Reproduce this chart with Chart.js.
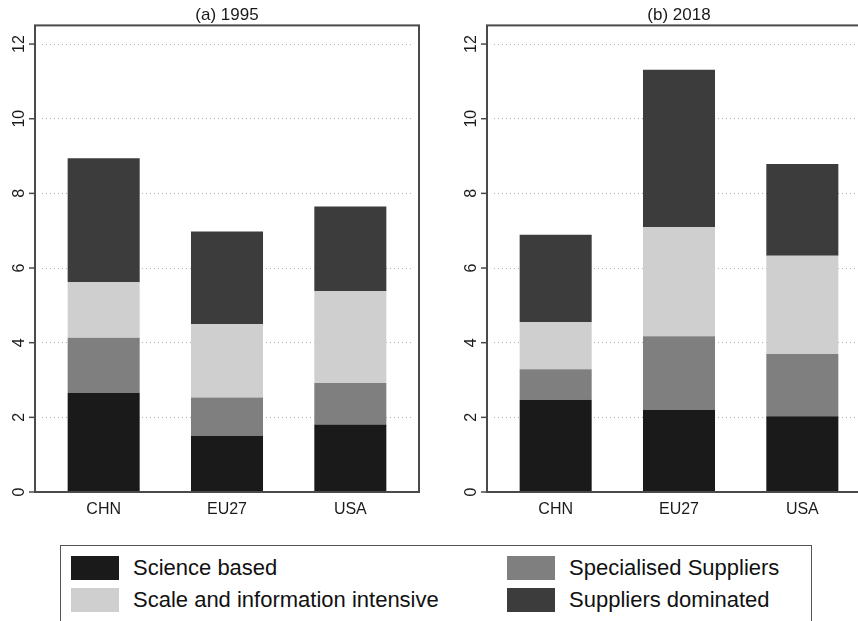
<!DOCTYPE html>
<html>
<head>
<meta charset="utf-8">
<script src="https://cdn.jsdelivr.net/npm/chart.js@4.4.1/dist/chart.umd.min.js"></script>
<style>
  body { margin: 0; background: #fff; }
  #wrap { position: relative; width: 858px; height: 621px; overflow: hidden; font-family: 'Liberation Sans', Arial, sans-serif; }
  .panel { position: absolute; top: 0; }
  #legend { position: absolute; left: 60px; top: 545px; width: 752px; height: 100px; border: 1.5px solid #555; box-sizing: border-box; }
  .item { position: absolute; height: 24px; line-height: 24px; font-size: 22px; color: #111; white-space: nowrap; }
  .sw { position: absolute; left: 0; top: 0; width: 48px; height: 24px; }
  .item span.txt { position: absolute; left: 62px; top: 0; }
</style>
</head>
<body>
<div id="wrap">
  <div class="panel" style="left:0"><canvas id="chart1995" width="430" height="535"></canvas></div>
  <div class="panel" style="left:452px"><canvas id="chart2018" width="430" height="535"></canvas></div>
  <div id="legend"></div>
</div>
<script>
// dados
const countries = ['CHN', 'EU27', 'USA'];
const sectors = ['Science based', 'Specialised Suppliers', 'Scale and information intensive', 'Suppliers dominated'];
const sectorColors = ['#1a1a1a', '#7f7f7f', '#cfcfcf', '#3c3c3c'];
const yTicks = [0, 2, 4, 6, 8, 10, 12];

// 1995
const science1995 = [2.65, 1.50, 1.81];
const specialised1995 = [1.48, 1.03, 1.11];
const scale1995 = [1.49, 1.97, 2.46];
const suppliers1995 = [3.32, 2.48, 2.27];

// 2018
const science2018 = [2.47, 2.20, 2.03];
const specialised2018 = [0.82, 1.97, 1.67];
const scale2018 = [1.26, 2.93, 2.63];
const suppliers2018 = [2.34, 4.21, 2.46];

Chart.defaults.font.family = "'Liberation Sans', Arial, sans-serif";
Chart.defaults.color = '#222';

/* moldura estilo Stata */
const framePlugin = {
    id: 'frame',
    afterDraw(chart) {
        const ctx = chart.ctx;
        const a = chart.chartArea;
        const pad = 7;
        const left = a.left - pad;
        ctx.save();
        ctx.strokeStyle = '#4a4a4a';
        ctx.lineWidth = 2;
        ctx.strokeRect(left, a.top, (a.right + pad) - left, a.bottom - a.top);
        ctx.lineWidth = 1.5;
        const y = chart.scales.y;
        y.ticks.forEach(t => {
            const py = y.getPixelForValue(t.value);
            ctx.beginPath();
            ctx.moveTo(left - 6, py);
            ctx.lineTo(left, py);
            ctx.stroke();
        });
        ctx.restore();
    }
};

function makeChart(id, title, sb, ss, si, sd) {
    const series = [sb, ss, si, sd];
    return new Chart(document.getElementById(id), {
        type: 'bar',
        data: {
            labels: countries,
            datasets: sectors.map((s, i) => ({
                label: s,
                data: series[i],
                backgroundColor: sectorColors[i],
                borderWidth: 0,
                barPercentage: 0.584,
                categoryPercentage: 1
            }))
        },
        options: {
            responsive: false,
            animation: false,
            layout: { padding: { right: 18, left: 0, top: 0, bottom: 0 } },
            scales: {
                x: {
                    stacked: true,
                    grid: { display: false, drawTicks: false },
                    border: { display: false },
                    ticks: { font: { size: 16 }, color: '#1a1a1a', padding: 8 },
                    afterFit(scale) { scale.height = 43; }
                },
                y: {
                    stacked: true,
                    min: 0,
                    max: 12.5,
                    afterBuildTicks(scale) { scale.ticks = yTicks.map(v => ({ value: v })); },
                    grid: {
                        color: '#b0b0b0',
                        lineWidth: 1,
                        drawTicks: false,
                        tickLength: 0
                    },
                    border: { display: false, dash: [1, 3] },
                    ticks: {
                        font: { size: 16 },
                        color: '#1a1a1a',
                        minRotation: 90,
                        maxRotation: 90,
                        crossAlign: 'center',
                        padding: 14
                    },
                    afterFit(scale) { scale.width = 42; }
                }
            },
            plugins: {
                legend: { display: false },
                tooltip: { enabled: false },
                title: {
                    display: true,
                    text: title,
                    fullSize: false,
                    color: '#1a1a1a',
                    font: { size: 17, weight: 'normal' },
                    padding: { top: 5, bottom: 0 }
                }
            }
        },
        plugins: [framePlugin]
    });
}

const chart1995 = makeChart('chart1995', '(a) 1995', science1995, specialised1995, scale1995, suppliers1995);
const chart2018 = makeChart('chart2018', '(b) 2018', science2018, specialised2018, scale2018, suppliers2018);

// dotted grid
[chart1995, chart2018].forEach(c => {
    c.options.scales.y.grid.borderDash = [1, 3];
    c.options.scales.y.border.dash = [1, 3];
    c.update();
});

/* legenda */
const legendOrder = [0, 2, 1, 3];
const legendPos = [[10, 10], [10, 42], [446, 10], [446, 42]];
const legend = document.getElementById('legend');
legendOrder.forEach((idx, k) => {
    const it = document.createElement('div');
    it.className = 'item';
    it.style.left = legendPos[k][0] + 'px';
    it.style.top = legendPos[k][1] + 'px';
    it.innerHTML = '<div class="sw" style="background:' + sectorColors[idx] + '"></div><span class="txt">' + sectors[idx] + '</span>';
    legend.appendChild(it);
});
</script>
</body>
</html>
